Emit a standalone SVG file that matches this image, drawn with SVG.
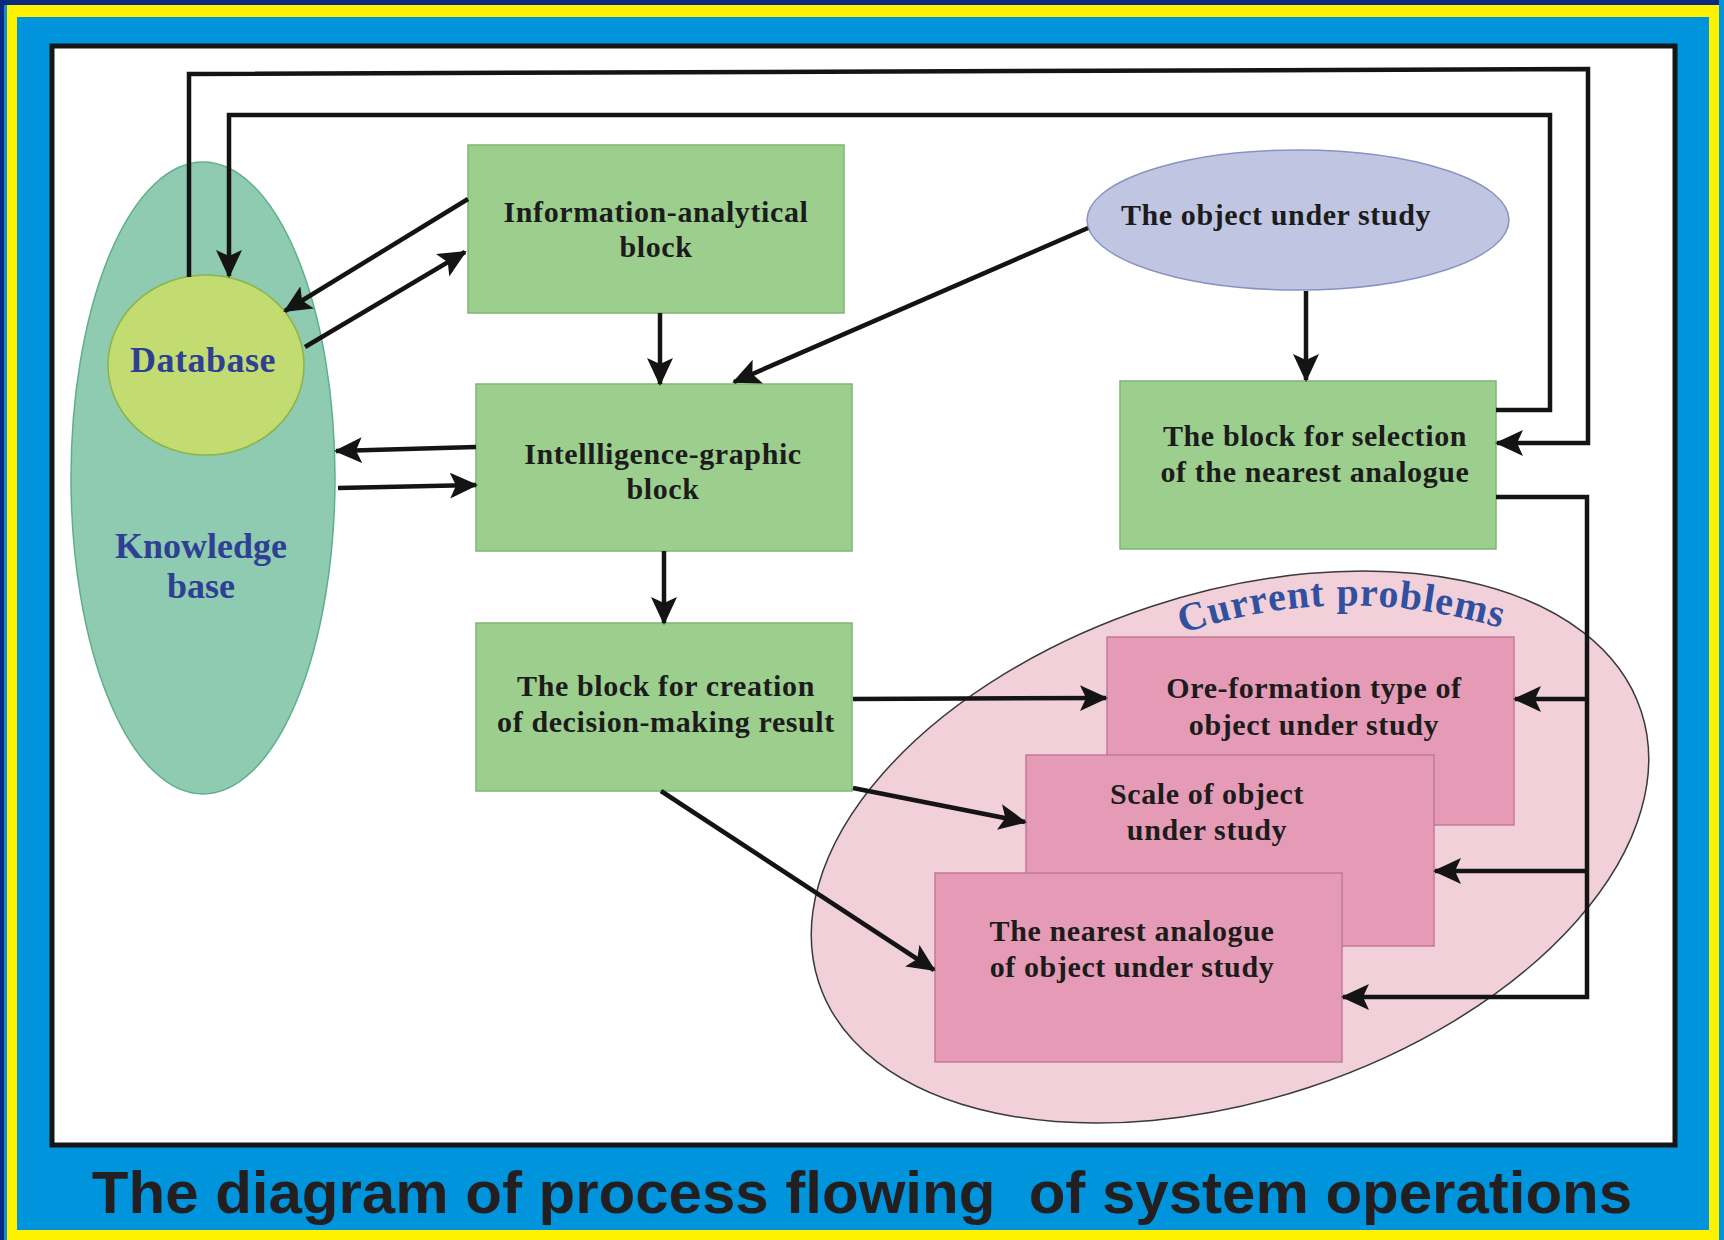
<svg xmlns="http://www.w3.org/2000/svg" width="1724" height="1240" viewBox="0 0 1724 1240">
<style>
.box{fill:#9ccf8e;stroke:#7fb573;stroke-width:1.5}
.pink{fill:#e59bb5;stroke:#c27a96;stroke-width:1.5}
.t{font-family:"Liberation Serif","Times New Roman",serif;font-weight:bold;font-size:30px;fill:#1c1c1c;text-anchor:middle;letter-spacing:0.6px}
.kb{font-family:"Liberation Serif","Times New Roman",serif;font-weight:bold;font-size:36px;fill:#2e3f94;text-anchor:middle}
.c{fill:none;stroke:#141414;stroke-width:4.5;stroke-linejoin:miter}
.a{marker-end:url(#arr)}
</style>
<defs>
<marker id="arr" markerUnits="userSpaceOnUse" markerWidth="30" markerHeight="28" refX="26" refY="13" orient="auto" viewBox="0 0 30 28">
<path d="M0,0 L28,13 L0,26 L6,13 Z" fill="#141414"/>
</marker>
<path id="cp" d="M1164,640 Q1338,574 1520,634"/>
</defs>
<!-- frame -->
<rect x="0" y="0" width="1724" height="1240" fill="#fff200"/>
<rect x="0" y="0" width="1724" height="5" fill="#0a2a80"/>
<rect x="0" y="0" width="4" height="1240" fill="#0a2a80"/>
<rect x="4" y="5" width="3" height="1235" fill="#1a8ad0"/>
<rect x="1719" y="0" width="5" height="1240" fill="#0094dc"/>
<rect x="17" y="17" width="1692" height="1213" fill="#0094dc"/>
<rect x="52" y="46" width="1623" height="1099" fill="#ffffff" stroke="#161616" stroke-width="5"/>
<text x="862" y="1213" font-family="Liberation Sans, Arial, sans-serif" font-weight="bold" font-size="60" fill="#231f20" text-anchor="middle" xml:space="preserve">The diagram of process flowing  of system operations</text>

<g id="current-problems">
<ellipse cx="1230" cy="847" rx="433" ry="253" transform="rotate(-18.3 1230 847)" fill="#f2d0d9" stroke="#3a3a3a" stroke-width="1.5"/>
<text font-family="Liberation Serif, Times New Roman, serif" font-weight="bold" font-size="40" fill="#3150a0" letter-spacing="1" text-anchor="middle"><textPath href="#cp" startOffset="50%">Current problems</textPath></text>
</g>

<g id="knowledge-base">
<ellipse cx="203" cy="478" rx="132" ry="316" fill="#8ecbb0" stroke="#5fae8c" stroke-width="1.5"/>
<text class="kb" x="201" y="558">Knowledge</text>
<text class="kb" x="201" y="598">base</text>
</g>
<g id="database">
<ellipse cx="206" cy="365" rx="98" ry="90" fill="#c2dc72" stroke="#8cb44a" stroke-width="1.5"/>
<text class="kb" x="203" y="372" letter-spacing="0.5">Database</text>
</g>

<g id="info-block">
<rect class="box" x="468" y="145" width="376" height="168"/>
<text class="t" x="656" y="222">Information-analytical</text>
<text class="t" x="656" y="257">block</text>
</g>
<g id="intelligence-block">
<rect class="box" x="476" y="384" width="376" height="167"/>
<text class="t" x="663" y="464">Intellligence-graphic</text>
<text class="t" x="663" y="499">block</text>
</g>
<g id="creation-block">
<rect class="box" x="476" y="623" width="376" height="168"/>
<text class="t" x="666" y="696">The block for creation</text>
<text class="t" x="666" y="732">of decision-making result</text>
</g>
<g id="object">
<ellipse cx="1298" cy="220" rx="211" ry="70" fill="#c0c6e2" stroke="#8a92c2" stroke-width="1.5"/>
<text class="t" x="1276" y="225">The object under study</text>
</g>
<g id="selection-block">
<rect class="box" x="1120" y="381" width="376" height="168"/>
<text class="t" x="1315" y="446">The block for selection</text>
<text class="t" x="1315" y="482">of the nearest analogue</text>
</g>
<g id="ore-box">
<rect class="pink" x="1107" y="637" width="407" height="188"/>
<text class="t" x="1314" y="698">Ore-formation type of</text>
<text class="t" x="1314" y="735">object under study</text>
</g>
<g id="scale-box">
<rect class="pink" x="1026" y="755" width="408" height="191"/>
<text class="t" x="1207" y="804">Scale of object</text>
<text class="t" x="1207" y="840">under study</text>
</g>
<g id="analogue-box">
<rect class="pink" x="935" y="873" width="407" height="189"/>
<text class="t" x="1132" y="941">The nearest analogue</text>
<text class="t" x="1132" y="977">of object under study</text>
</g>

<g id="connectors">
<path class="c a" d="M189,277 L189,74 L1588,69 L1588,443 L1497,443"/>
<path class="c a" d="M1496,410 L1550,410 L1550,115 L229,115 L229,276"/>
<path class="c a" d="M468,199 L285,311"/>
<path class="c a" d="M305,347 L465,252"/>
<path class="c a" d="M660,313 L660,384"/>
<path class="c a" d="M1088,228 L734,382"/>
<path class="c a" d="M1306,291 L1306,380"/>
<path class="c a" d="M476,447 L336,451"/>
<path class="c a" d="M338,488 L476,485"/>
<path class="c a" d="M664,551 L664,623"/>
<path class="c a" d="M853,699 L1106,698"/>
<path class="c a" d="M853,788 L1025,822"/>
<path class="c a" d="M661,791 L934,970"/>
<path class="c a" d="M1496,497 L1587,497 L1587,997 L1343,997"/>
<path class="c a" d="M1587,699 L1515,699"/>
<path class="c a" d="M1587,871 L1435,871"/>
</g>
</svg>
